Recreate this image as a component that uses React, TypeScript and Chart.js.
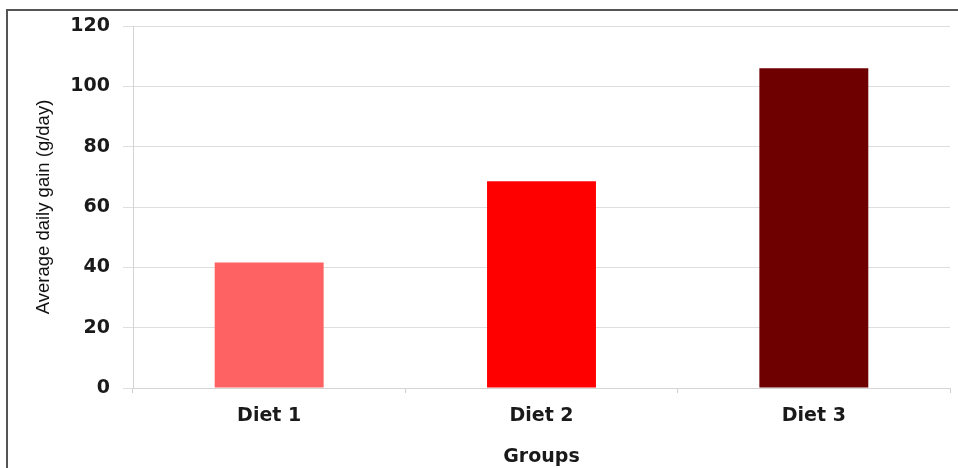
import React, { useEffect, useRef } from "react";
import { Chart, registerables } from "chart.js";

Chart.register(...registerables);

const categories = ["Diet 1", "Diet 2", "Diet 3"];
const gainValues = [41.6, 68.5, 106.0];
const barColors = ["#FF6262", "#FF0000", "#6E0000"];
const yTickValues = [0, 20, 40, 60, 80, 100, 120];
const yTitle = "Average daily gain (g/day)";
const xTitle = "Groups";

export default function App() {
  const canvasRef = useRef<HTMLCanvasElement | null>(null);

  useEffect(() => {
    const canvas = canvasRef.current;
    if (!canvas) return;
    const chart = new Chart(canvas, {
      type: "bar",
      data: {
        labels: categories,
        datasets: [
          {
            data: gainValues,
            backgroundColor: barColors,
            borderWidth: 0,
            categoryPercentage: 0.8,
            barPercentage: 0.5,
          },
        ],
      },
      options: {
        responsive: false,
        animation: false,
        devicePixelRatio: 1,
        layout: { padding: { left: 33, right: 8, top: 26, bottom: 0 } },
        plugins: {
          legend: { display: false },
          tooltip: { enabled: false },
        },
        scales: {
          x: {
            grid: {
              display: true,
              drawOnChartArea: false,
              drawTicks: true,
              tickLength: 5,
              color: "#cfcfcf",
              offset: true,
            },
            border: { color: "#d4d4d4", width: 1 },
            ticks: {
              padding: 12,
              color: "#1a1a1a",
              font: { family: "'DejaVu Sans', sans-serif", size: 19, weight: "bold" },
            },
            title: {
              display: true,
              text: xTitle,
              color: "#1a1a1a",
              padding: 0,
              font: { family: "'DejaVu Sans', sans-serif", size: 19, weight: "bold" },
            },
            afterFit: (scale: any) => {
              scale.height = 80;
            },
          },
          y: {
            min: 0,
            max: 120,
            afterBuildTicks: (scale: any) => {
              scale.ticks = yTickValues.map((v) => ({ value: v }));
            },
            grid: {
              color: "#dedede",
              lineWidth: 1,
              tickLength: 10,
              drawTicks: true,
            },
            border: { color: "#d4d4d4", width: 1 },
            ticks: {
              padding: 13,
              color: "#1a1a1a",
              font: { family: "'DejaVu Sans', sans-serif", size: 19, weight: "bold" },
            },
            title: {
              display: true,
              text: yTitle,
              color: "#111111",
              padding: 0,
              font: { family: "'Liberation Sans', Arial, sans-serif", size: 18.5 },
            },
            afterFit: (scale: any) => {
              scale.width = 100;
            },
          },
        },
      },
    });
    return () => chart.destroy();
  }, []);

  return (
    <div
      style={{
        position: "fixed",
        left: 0,
        top: 0,
        width: 958,
        height: 468,
        background: "#ffffff",
        overflow: "hidden",
      }}
    >
      <canvas
        ref={canvasRef}
        width={958}
        height={468}
        style={{ position: "absolute", left: 0, top: 0 }}
      />
      <div
        style={{
          position: "absolute",
          left: 6,
          top: 9,
          width: 952,
          height: 459,
          borderLeft: "2px solid #555555",
          borderTop: "2px solid #555555",
          pointerEvents: "none",
        }}
      />
    </div>
  );
}
